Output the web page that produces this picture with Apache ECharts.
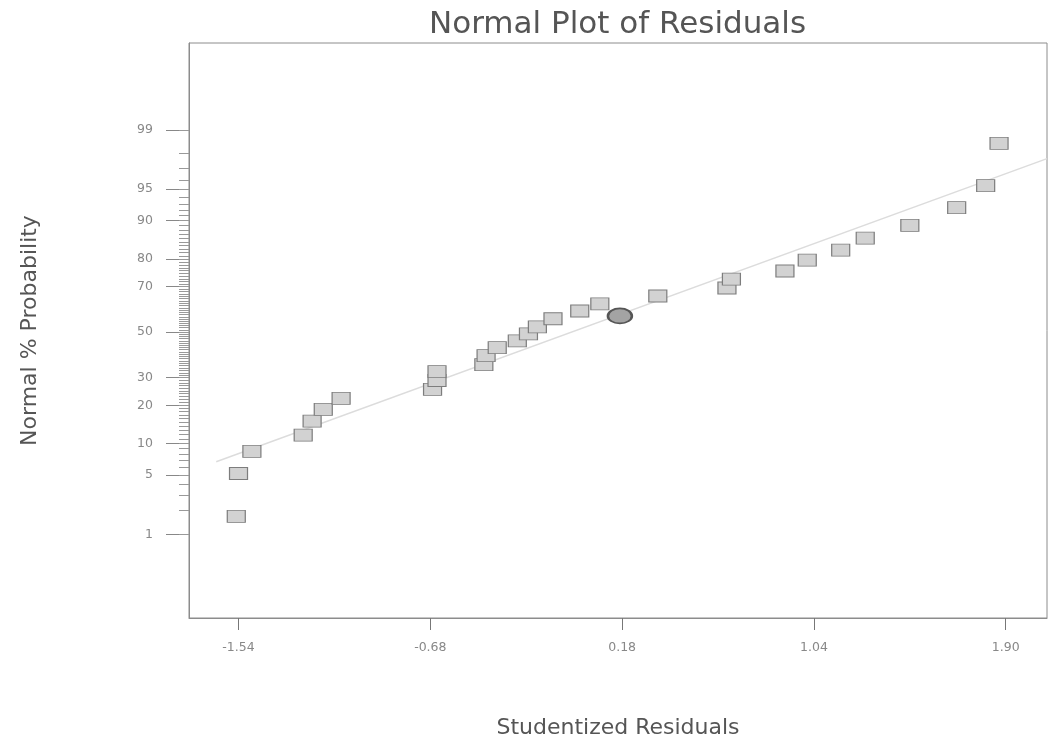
<!DOCTYPE html>
<html>
<head>
<meta charset="utf-8">
<title>Normal Plot of Residuals</title>
<script src="https://cdn.jsdelivr.net/npm/echarts@6.0.0/dist/echarts.min.js"></script>
<style>
  html, body { margin: 0; padding: 0; background: #fff; }
  #main { width: 1049px; height: 744px; }
</style>
</head>
<body>
<div id="main"></div>
<script>
// studentized residuals (squares) and their normal % probability
var residuals = [-1.55, -1.54, -1.48, -1.25, -1.21, -1.16, -1.08, -0.67, -0.65, -0.65,
  -0.44, -0.43, -0.38, -0.29, -0.24, -0.20, -0.13, -0.01, 0.08, 0.34,
  0.65, 0.67, 0.91, 1.01, 1.16, 1.27, 1.47, 1.68, 1.81, 1.87];
var probabilities = [1.7, 5.2, 8.5, 11.8, 15.3, 18.7, 22.3, 25.5, 28.9, 32.5,
  35.4, 39.3, 42.9, 46.0, 49.2, 52.4, 56.1, 59.6, 62.7, 66.1,
  69.4, 72.9, 75.9, 79.6, 82.7, 86.0, 89.0, 92.4, 95.4, 98.5];

// highlighted run (circle)
var highlightResidual = [0.17];
var highlightProbability = [57.4];

// reference line end points
var lineResiduals = [-1.64, 2.085];
var lineProbabilities = [6.8, 97.7];

// tick labels
var xTicks = [-1.54, -0.68, 0.18, 1.04, 1.90];
var yTicks = [1, 5, 10, 20, 30, 50, 70, 80, 90, 95, 99];
var yMinorTicks = [];
for (var k = 1; k <= 99; k++) yMinorTicks.push(k);

// inverse normal cdf (Acklam) -> probability axis
function probit(p) {
  var a = [-3.969683028665376e+01, 2.209460984245205e+02, -2.759285104469687e+02, 1.383577518672690e+02, -3.066479806614716e+01, 2.506628277459239e+00];
  var b = [-5.447609879822406e+01, 1.615858368580409e+02, -1.556989798598866e+02, 6.680131188771972e+01, -1.328068155288572e+01];
  var c = [-7.784894002430293e-03, -3.223964580411365e-01, -2.400758277161838e+00, -2.549732539343734e+00, 4.374664141464968e+00, 2.938163982698783e+00];
  var d = [7.784695709041462e-03, 3.224671290700398e-01, 2.445134137142996e+00, 3.754408661907416e+00];
  var plow = 0.02425, q, r;
  if (p < plow) {
    q = Math.sqrt(-2 * Math.log(p));
    return (((((c[0]*q+c[1])*q+c[2])*q+c[3])*q+c[4])*q+c[5]) / ((((d[0]*q+d[1])*q+d[2])*q+d[3])*q+1);
  }
  if (p <= 1 - plow) {
    q = p - 0.5; r = q * q;
    return (((((a[0]*r+a[1])*r+a[2])*r+a[3])*r+a[4])*r+a[5])*q / (((((b[0]*r+b[1])*r+b[2])*r+b[3])*r+b[4])*r+1);
  }
  q = Math.sqrt(-2 * Math.log(1 - p));
  return -(((((c[0]*q+c[1])*q+c[2])*q+c[3])*q+c[4])*q+c[5]) / ((((d[0]*q+d[1])*q+d[2])*q+d[3])*q+1);
}
function z(pct) { return probit(pct / 100); }
function pairs(xs, ps) {
  return xs.map(function (x, i) { return [x, z(ps[i])]; });
}

var yTickZ = yTicks.map(z);
var yMinorZ = yMinorTicks.map(z);
var labelFont = 'DejaVu Sans';
var axisColor = '#8c8c8c';

var myChart = echarts.init(document.getElementById('main'), null, { renderer: 'canvas' });

var option = {
  backgroundColor: '#fff',
  animation: false,
  title: {
    text: 'Normal Plot of Residuals',
    left: 424,
    top: 4,
    textStyle: { fontFamily: labelFont, fontSize: 31, fontWeight: 'normal', color: '#555' }
  },
  grid: {
    left: 189, top: 43, right: 2, bottom: 123,
    show: true, borderColor: axisColor, borderWidth: 1
  },
  xAxis: {
    type: 'value',
    min: -1.762, max: 2.085,
    name: 'Studentized Residuals',
    nameLocation: 'middle',
    nameGap: 99,
    nameTextStyle: { fontFamily: labelFont, fontSize: 22, color: '#555' },
    axisLine: { onZero: false, lineStyle: { color: axisColor } },
    axisTick: { customValues: xTicks, length: 12, lineStyle: { color: '#777' } },
    axisLabel: {
      customValues: xTicks, margin: 23,
      fontFamily: labelFont, fontSize: 12.5, color: '#888',
      formatter: function (v) { return v.toFixed(2); }
    },
    splitLine: { show: false }
  },
  yAxis: [{
    type: 'value',
    min: -3.288, max: 3.325,
    name: 'Normal % Probability',
    nameLocation: 'middle',
    nameGap: 148,
    nameTextStyle: { fontFamily: labelFont, fontSize: 22, color: '#555' },
    axisLine: { onZero: false, lineStyle: { color: axisColor } },
    axisTick: { customValues: yTickZ, length: 23, lineStyle: { color: '#888' } },
    axisLabel: {
      customValues: yTickZ, margin: 36,
      fontFamily: labelFont, fontSize: 12.5, color: '#888',
      formatter: function (v) {
        var best = 0;
        for (var i = 1; i < yTickZ.length; i++) {
          if (Math.abs(yTickZ[i] - v) < Math.abs(yTickZ[best] - v)) best = i;
        }
        return String(yTicks[best]);
      }
    },
    splitLine: { show: false }
  }, {
    // minor ticks at every percent
    type: 'value',
    position: 'left',
    min: -3.288, max: 3.325,
    axisLine: { show: false, onZero: false },
    axisTick: { customValues: yMinorZ, length: 10, lineStyle: { color: '#999' } },
    axisLabel: { show: false },
    splitLine: { show: false }
  }],
  series: [{
    type: 'line',
    data: pairs(lineResiduals, lineProbabilities),
    symbol: 'none',
    silent: true,
    lineStyle: { color: '#dcdcdc', width: 1.5 },
    z: 1
  }, {
    type: 'scatter',
    data: pairs(residuals, probabilities),
    symbol: 'rect',
    symbolSize: [18, 12],
    itemStyle: { color: '#d2d2d2', borderColor: '#7d7d7d', borderWidth: 1, opacity: 1 },
    z: 2
  }, {
    type: 'scatter',
    data: pairs(highlightResidual, highlightProbability),
    symbol: 'circle',
    symbolSize: [24, 15],
    itemStyle: { color: '#a3a3a3', borderColor: '#555', borderWidth: 2, opacity: 1 },
    z: 3
  }]
};

myChart.setOption(option);
</script>
</body>
</html>
